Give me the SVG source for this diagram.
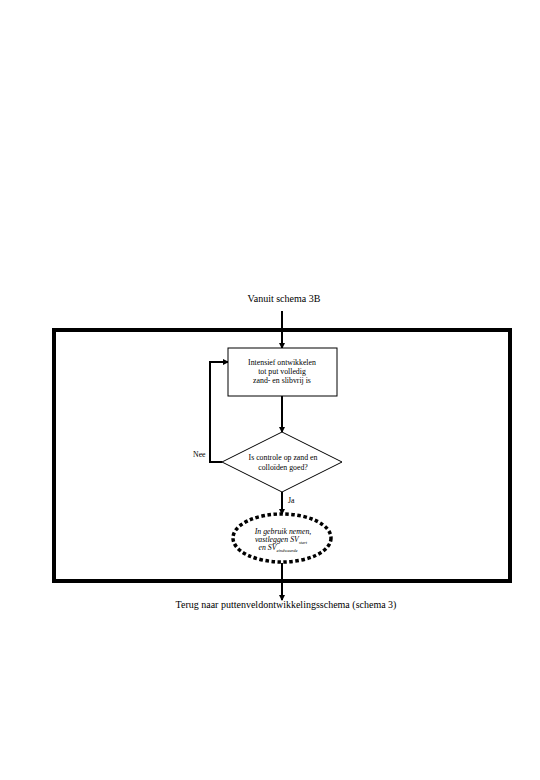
<svg xmlns="http://www.w3.org/2000/svg" width="540" height="780" viewBox="0 0 540 780">
<style>
text{font-family:"Liberation Serif","Times New Roman",serif;fill:#000}
.t{font-size:10px}
.s{font-size:7.8px}
.shape{fill:#fff;stroke:#000;stroke-width:1}
.con{fill:none;stroke:#000;stroke-width:2}
</style>
<defs>
<marker id="ah" markerWidth="6" markerHeight="6" refX="5" refY="3" orient="auto" markerUnits="userSpaceOnUse">
<path d="M0,0 L6,3 L0,6 Z" fill="#000"/>
</marker>
</defs>
<rect width="540" height="780" fill="#fff"/>
<g id="frame"><rect x="54" y="330" width="456" height="251" fill="none" stroke="#000" stroke-width="4"/></g>
<g id="start"><text class="t" x="284" y="302" text-anchor="middle">Vanuit schema 3B</text></g>
<g id="connectors">
<line class="con" x1="282" y1="311" x2="282" y2="348" marker-end="url(#ah)"/>
<line class="con" x1="282" y1="396" x2="282" y2="432" marker-end="url(#ah)"/>
<polyline class="con" points="222,462 210,462 210,362 228,362" marker-end="url(#ah)"/>
<line class="con" x1="282" y1="492" x2="282" y2="514" marker-end="url(#ah)"/>
<line class="con" x1="282" y1="563" x2="282" y2="600" marker-end="url(#ah)"/>
</g>
<g id="box"><rect class="shape" x="228" y="348" width="109" height="48"/>
<text class="s" x="282" y="365" text-anchor="middle">Intensief ontwikkelen</text>
<text class="s" x="282" y="374" text-anchor="middle">tot put volledig</text>
<text class="s" x="282" y="383" text-anchor="middle">zand- en slibvrij is</text></g>
<g id="decision"><polygon class="shape" points="282,432 342,462 282,492 222,462"/>
<text class="s" x="283" y="460" text-anchor="middle">Is controle op zand en</text>
<text class="s" x="283" y="470" text-anchor="middle">colloïden goed?</text></g>
<g id="labels"><text class="s" x="193" y="457">Nee</text><text class="s" x="288" y="503">Ja</text></g>
<g id="end"><ellipse cx="282" cy="538" rx="49" ry="24" fill="#fff" stroke="#000" stroke-width="3.5" stroke-dasharray="3.5 2.5"/>
<text class="s" x="283" y="534" text-anchor="middle" font-style="italic">In gebruik nemen,</text>
<text class="s" x="281" y="542" text-anchor="middle" font-style="italic">vastleggen SV<tspan font-size="4.5" dy="1.5">start</tspan></text>
<text class="s" x="278" y="550" text-anchor="middle" font-style="italic">en SV<tspan font-size="4.5" dy="1.5">eindwaarde</tspan></text></g>
<g id="return"><text class="t" x="286" y="608" text-anchor="middle">Terug naar puttenveldontwikkelingsschema (schema 3)</text></g>
</svg>
